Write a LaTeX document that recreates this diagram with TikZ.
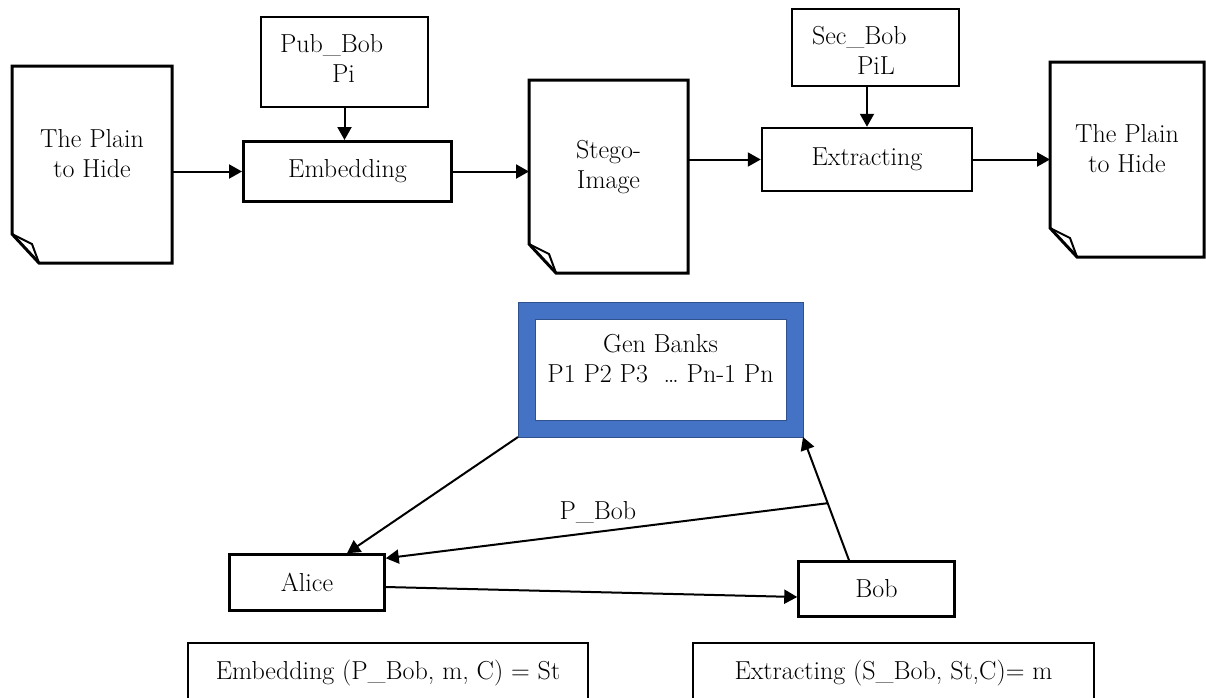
\documentclass[tikz,border=0pt]{standalone}
\usepackage{fontspec}
\usetikzlibrary{arrows.meta,calc}
\definecolor{frameblue}{HTML}{4472C4}
\definecolor{frameedge}{HTML}{2F528F}

% two-line text centred in a page shape, lifted by #1
\newcommand\stacktext[2]{\raisebox{#1}[0pt][0pt]{\begin{tabular}{@{}c@{}}#2\end{tabular}}}
% key box text: lift, left gap, first line, indent, second line
\newcommand\keytext[5]{\makebox[167pt][l]{\hspace*{#2}\raisebox{#1}[0pt][0pt]{\begin{tabular}{@{}l@{}}#3\\\hspace*{#4}#5\end{tabular}}}}
% page outline with a folded lower-left corner
\newcommand\pageoutline[1]{%
  \draw[line width=3pt, line join=miter]
    (#1.north west) -- (#1.north east) -- (#1.south east)
    -- ([xshift=27pt]#1.south west) -- ([yshift=29pt]#1.south west) -- cycle;
  \draw[line width=2pt, line join=round]
    ([yshift=29pt]#1.south west) -- ([xshift=20pt,yshift=19pt]#1.south west)
    -- ([xshift=27pt]#1.south west);}

\tikzset{
  every node/.style={font=\fontsize{26}{30}\selectfont, inner sep=0pt},
  pagebox/.style={draw=none, outer sep=0pt, rectangle},
  keybox/.style={draw, line width=1.5pt, rectangle},
  box/.style={draw, rectangle},
  genbox/.style={draw=frameblue, line width=17pt, rectangle},
  arr/.style={line width=2pt, -{Triangle[length=13pt,width=14pt]}},
}

\begin{document}
\begin{tikzpicture}[x=1pt,y=-1pt]
\path[use as bounding box] (0,0) rectangle (1206,697);
\clip (0,0) rectangle (1206,697);
\fill[white] (0,0) rectangle (1206,697);

% upper row: hiding and recovering the plain text
\node[pagebox, minimum width=160pt, minimum height=197pt] (plainA) at (92,164.5) {\stacktext{2pt}{The Plain\\to Hide}};
\node[pagebox, minimum width=159pt, minimum height=193pt] (stego) at (608.5,176.5) {\stacktext{2.5pt}{Stego-\\Image}};
\node[pagebox, minimum width=154pt, minimum height=195pt] (plainB) at (1127,159.5) {\stacktext{1.5pt}{The Plain\\to Hide}};
\pageoutline{plainA}
\pageoutline{stego}
\pageoutline{plainB}

\node[keybox, minimum width=167pt, minimum height=90pt] (pub) at (344.5,62) {\keytext{-5.5pt}{19pt}{Pub\_Bob}{52pt}{Pi}};
\node[keybox, minimum width=167pt, minimum height=77pt] (sec) at (875.5,47.5) {\keytext{-12.5pt}{20pt}{Sec\_Bob}{45pt}{PiL}};

\node[box, line width=3pt, minimum width=208pt, minimum height=60pt] (emb) at (347.5,171.5) {Embedding};
\node[box, line width=2.5pt, minimum width=210pt, minimum height=63pt] (ext) at (867,159.5) {Extracting};

\draw[arr] (emb.west -| plainA.east) -- (emb.west);
\draw[arr] (pub.south) -- (emb.north -| pub.south);
\draw[arr] (emb.east) -- (emb.east -| stego.west);
\draw[arr] (ext.west -| stego.east) -- (ext.west);
\draw[arr] (sec.south -| ext.north) -- (ext.north);
\draw[arr] (ext.east) -- (ext.east -| plainB.west);

% lower part: key bank and the two parties
\node[genbox, minimum width=268pt, minimum height=118pt] (gen) at (660.5,369.5)
  {\stacktext{1.5pt}{Gen Banks\\P1 P2 P3 \ \ldots\ Pn-1 Pn}};
\draw[frameedge, line width=0.8pt] (gen.south west) rectangle (gen.north east);
\draw[frameedge, line width=0.8pt] ([shift={(17pt,17pt)}]gen.south west) rectangle ([shift={(-17pt,-17pt)}]gen.north east);

\node[box, line width=2.5pt, minimum width=155pt, minimum height=56pt] (alice) at (307,582.5) {Alice};
\node[box, line width=2.5pt, minimum width=156pt, minimum height=55pt] (bob) at (876.5,589) {Bob};

\node[box, line width=2.5pt, minimum width=400pt, minimum height=60pt] (eqA) at (388,673) {Embedding (P\_Bob, m, C) = St};
\node[box, line width=2pt, minimum width=401pt, minimum height=60pt] (eqB) at (893.5,673) {Extracting (S\_Bob, St,C)= m};

\draw[arr] (gen.south west) -- ([xshift=40pt]alice.north);
\coordinate (bobfoot) at ([xshift=-27.5pt]bob.north);
\draw[arr] (bobfoot) -- (gen.south east);
\coordinate (split) at ($(bobfoot)!0.463!(gen.south east)$);
\draw[arr] (split) -- node[pos=0.52, above=8pt] {P\_Bob} ([yshift=-5pt]alice.north east);
\draw[arr] ([yshift=-4.5pt]alice.east) -- ([yshift=-8pt]bob.west);
\end{tikzpicture}
\end{document}
